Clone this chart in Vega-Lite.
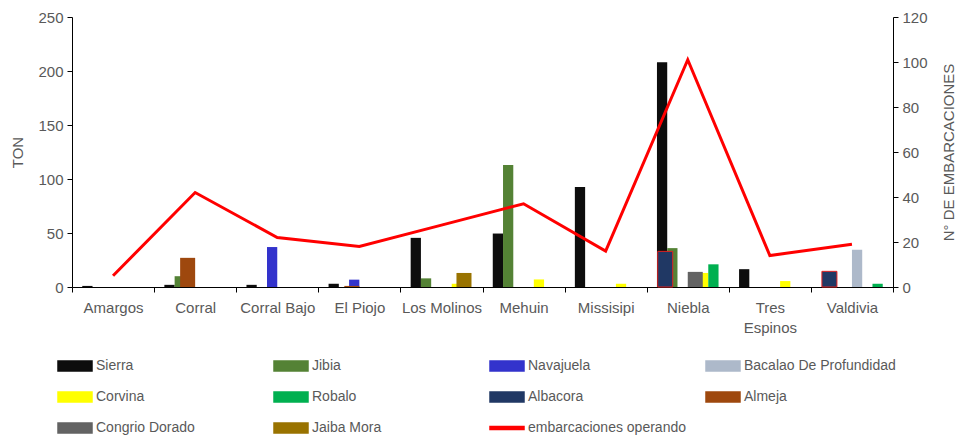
{
  "$schema": "https://vega.github.io/schema/vega-lite/v6.json",
  "width": 821,
  "height": 270,
  "autosize": "none",
  "padding": {"left": 72, "top": 17, "right": 65, "bottom": 148},
  "background": "white",
  "config": {
    "view": {"stroke": null},
    "font": "Liberation Sans",
    "axis": {"labelFont": "Liberation Sans", "labelFontSize": 15, "labelColor": "#595959", "titleFont": "Liberation Sans", "titleFontSize": 15, "titleColor": "#595959", "titleFontWeight": "normal", "domainColor": "#000000", "tickColor": "#000000", "grid": false, "tickSize": 5}
  },
  "datasets": {
    "ton": [
      {"lugar": "Amargos", "especie": "Sierra", "ton": 1},
      {"lugar": "Corral", "especie": "Sierra", "ton": 2},
      {"lugar": "Corral", "especie": "Jibia", "ton": 10},
      {"lugar": "Corral", "especie": "Almeja", "ton": 27},
      {"lugar": "Corral Bajo", "especie": "Sierra", "ton": 2},
      {"lugar": "Corral Bajo", "especie": "Navajuela", "ton": 37},
      {"lugar": "El Piojo", "especie": "Sierra", "ton": 3},
      {"lugar": "El Piojo", "especie": "Navajuela", "ton": 6.8},
      {"lugar": "El Piojo", "especie": "Almeja", "ton": 1},
      {"lugar": "Los Molinos", "especie": "Sierra", "ton": 45.5},
      {"lugar": "Los Molinos", "especie": "Jibia", "ton": 8},
      {"lugar": "Los Molinos", "especie": "Corvina", "ton": 3},
      {"lugar": "Los Molinos", "especie": "Jaiba Mora", "ton": 13},
      {"lugar": "Mehuin", "especie": "Sierra", "ton": 49.5},
      {"lugar": "Mehuin", "especie": "Jibia", "ton": 113},
      {"lugar": "Mehuin", "especie": "Corvina", "ton": 7},
      {"lugar": "Missisipi", "especie": "Sierra", "ton": 92.5},
      {"lugar": "Missisipi", "especie": "Corvina", "ton": 3},
      {"lugar": "Niebla", "especie": "Sierra", "ton": 208},
      {"lugar": "Niebla", "especie": "Jibia", "ton": 36},
      {"lugar": "Niebla", "especie": "Corvina", "ton": 13},
      {"lugar": "Niebla", "especie": "Robalo", "ton": 21},
      {"lugar": "Niebla", "especie": "Albacora", "ton": 33},
      {"lugar": "Niebla", "especie": "Congrio Dorado", "ton": 14},
      {"lugar": "Tres Espinos", "especie": "Sierra", "ton": 16.5},
      {"lugar": "Tres Espinos", "especie": "Corvina", "ton": 5.5},
      {"lugar": "Valdivia", "especie": "Bacalao De Profundidad", "ton": 34.5},
      {"lugar": "Valdivia", "especie": "Robalo", "ton": 3},
      {"lugar": "Valdivia", "especie": "Albacora", "ton": 14.5}
    ],
    "emb": [
      {"lugar": "Amargos", "embarcaciones": 5},
      {"lugar": "Corral", "embarcaciones": 42},
      {"lugar": "Corral Bajo", "embarcaciones": 22},
      {"lugar": "El Piojo", "embarcaciones": 18},
      {"lugar": "Los Molinos", "embarcaciones": 27.5},
      {"lugar": "Mehuin", "embarcaciones": 37},
      {"lugar": "Missisipi", "embarcaciones": 16},
      {"lugar": "Niebla", "embarcaciones": 101},
      {"lugar": "Tres Espinos", "embarcaciones": 14},
      {"lugar": "Valdivia", "embarcaciones": 19}
    ]
  },
  "encoding": {
    "x": {
      "field": "lugar", "type": "nominal", "sort": null,
      "scale": {"domain": ["Amargos", "Corral", "Corral Bajo", "El Piojo", "Los Molinos", "Mehuin", "Missisipi", "Niebla", "Tres Espinos", "Valdivia"], "paddingInner": 0, "paddingOuter": 0},
      "axis": {"title": null, "labelAngle": 0, "tickBand": "extent", "labelPadding": 8, "labelExpr": "datum.value == 'Tres Espinos' ? ['Tres', 'Espinos'] : datum.value", "labelLineHeight": 20}
    }
  },
  "layer": [
    {
      "data": {"name": "ton"},
      "encoding": {
        "y": {"field": "ton", "type": "quantitative", "scale": {"domain": [0, 250]}, "axis": {"title": "TON", "values": [0, 50, 100, 150, 200, 250], "titlePadding": 12, "labelPadding": 4}},
        "color": {
          "field": "especie", "type": "nominal",
          "scale": {
            "domain": ["Sierra", "Jibia", "Navajuela", "Bacalao De Profundidad", "Corvina", "Robalo", "Albacora", "Almeja", "Congrio Dorado", "Jaiba Mora", "embarcaciones operando"],
            "range": ["#0d0d0d", "#548235", "#3333cc", "#adb9ca", "#ffff00", "#00b050", "#203864", "#9e480e", "#636363", "#997300", "#ff0000"]
          },
          "legend": {
            "title": null, "orient": "none", "direction": "horizontal", "legendX": -8, "legendY": 338, "columns": 4, "gridAlign": "all", "columnPadding": 17, "rowPadding": 12,
            "symbolType": "M-1.7,-0.5H1.7V0.5H-1.7Z", "symbolSize": 400, "labelOffset": 10,
            "labelFont": "Liberation Sans", "labelFontSize": 14, "labelColor": "#595959", "padding": 0,
            "encode": {"symbols": {"update": {"shape": {"signal": "datum.value === 'embarcaciones operando' ? 'M-1.7,-0.15H1.7V0.15H-1.7Z' : 'M-1.7,-0.5H1.7V0.5H-1.7Z'"}, "stroke": {"signal": "datum.value === 'Albacora' ? '#ff3030' : datum.value === 'embarcaciones operando' ? '#ff0000' : 'transparent'"}, "strokeWidth": {"value": 1.5}}}}
          }
        }
      },
      "layer": [
        {
          "transform": [{"filter": {"field": "especie", "oneOf": ["Sierra", "Jibia", "Navajuela", "Bacalao De Profundidad", "Corvina", "Robalo"]}}],
          "mark": {"type": "bar"},
          "encoding": {
            "xOffset": {"field": "especie", "type": "nominal", "scale": {"domain": ["Sierra", "Jibia", "Navajuela", "Bacalao De Profundidad", "Corvina", "Robalo"], "paddingInner": 0, "paddingOuter": 1.1}}
          }
        },
        {
          "transform": [{"filter": {"field": "especie", "oneOf": ["Albacora", "Almeja", "Congrio Dorado", "Jaiba Mora"]}}],
          "mark": {"type": "bar"},
          "encoding": {
            "xOffset": {"field": "especie", "type": "nominal", "scale": {"domain": ["Albacora", "Almeja", "Congrio Dorado", "Jaiba Mora"], "paddingInner": 0, "paddingOuter": 0.733}},
            "stroke": {"condition": {"test": "datum.especie === 'Albacora'", "value": "#e02020"}, "value": null},
            "strokeWidth": {"value": 1}
          }
        }
      ],
      "resolve": {"scale": {"xOffset": "independent"}}
    },
    {
      "data": {"name": "emb"},
      "mark": {"type": "line", "strokeWidth": 3, "color": "#ff0000"},
      "encoding": {
        "y": {"field": "embarcaciones", "type": "quantitative", "scale": {"domain": [0, 120]}, "axis": {"title": "N° DE EMBARCACIONES", "orient": "right", "titleAngle": 270, "titleBaseline": "top", "values": [0, 20, 40, 60, 80, 100, 120], "titlePadding": 14, "labelPadding": 4}},
        "color": {"datum": "embarcaciones operando"}
      }
    }
  ],
  "resolve": {"scale": {"y": "independent"}, "axis": {"y": "independent"}}
}
